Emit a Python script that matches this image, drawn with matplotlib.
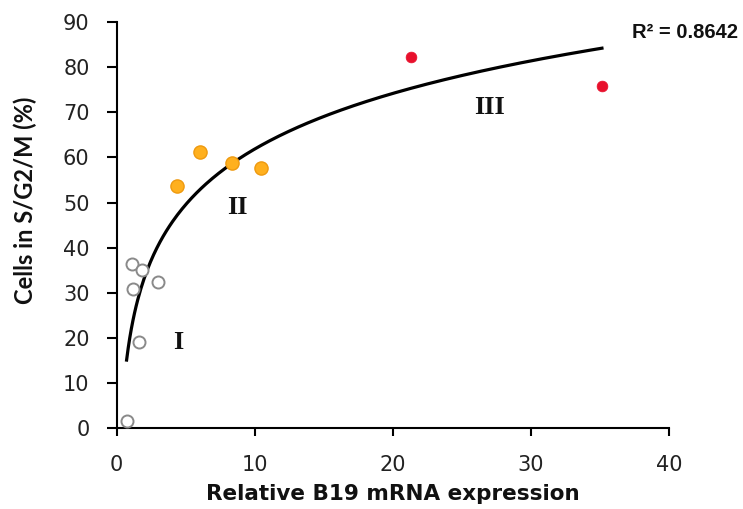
import numpy as np
import matplotlib
matplotlib.use("Agg")
import matplotlib.pyplot as plt

# Group I (open circles)
x_I = [1.13, 1.81, 1.20, 3.01, 1.64, 0.72]
y_I = [36.4, 35.1, 30.9, 32.5, 19.1, 1.6]
# Group II (orange)
x_II = [4.34, 6.03, 8.32, 10.45]
y_II = [53.7, 61.1, 58.8, 57.6]
# Group III (red)
x_III = [21.28, 35.13]
y_III = [82.2, 75.9]

x_ticks = [0, 10, 20, 30, 40]
y_ticks = [0, 10, 20, 30, 40, 50, 60, 70, 80, 90]
group_labels = ['I', 'II', 'III']
group_label_x = [4.44, 8.74, 27.0]
group_label_y = [18.9, 48.8, 71.0]
r2_text = "R² = 0.8642"

fig = plt.figure(figsize=(7.43, 5.09), dpi=100)
ax = fig.add_axes([0.157, 0.1585, 0.7437, 0.7983])

# logarithmic trendline fitted on all points
xa = np.array(x_I + x_II + x_III)
ya = np.array(y_I + y_II + y_III)
a, b = np.polyfit(np.log(xa), ya, 1)
xs = np.linspace(xa.min(), xa.max(), 300)
ax.plot(xs, a * np.log(xs) + b, color='black', lw=2.3, zorder=2, clip_on=False)

ax.scatter(x_I, y_I, s=75, facecolor='white', edgecolor='#8a8a8a', linewidth=1.4, zorder=3, clip_on=False)
ax.scatter(x_II, y_II, s=90, facecolor='#FFB01E', edgecolor='#EE9A10', linewidth=1.0, zorder=3)
ax.scatter(x_III, y_III, s=60, facecolor='#E8102C', edgecolor='#E8102C', linewidth=0.5, zorder=3)

ax.set_xlim(0, 40)
ax.set_ylim(0, 90)
ax.set_xticks(x_ticks)
ax.set_yticks(y_ticks)
for s in ['top', 'right']:
    ax.spines[s].set_visible(False)
for s in ['left', 'bottom']:
    ax.spines[s].set_linewidth(1.5)
ax.tick_params(axis='y', direction='out', length=7, width=1.5, pad=12.5,
               labelsize=15, colors='black', labelcolor='#222222')
ax.tick_params(axis='x', direction='out', length=6, width=1.5, pad=13.5,
               labelsize=15, colors='black', labelcolor='#222222')
for lab in ax.get_xticklabels() + ax.get_yticklabels():
    lab.set_family('DejaVu Sans')

ax.set_xlabel('Relative B19 mRNA expression', fontsize=15.5, fontweight='bold',
              family='DejaVu Sans', color='#111111')
ax.xaxis.set_label_coords(0.5, -0.138)
ax.xaxis.label.set_va('top')
ax.set_ylabel('Cells in S/G2/M (%)', fontsize=17, fontweight='bold', family='Lato',
              color='#111111')
ax.yaxis.set_label_coords(-0.166, 0.562)
ax.yaxis.label.set_va('center')

for t, gx, gy in zip(group_labels, group_label_x, group_label_y):
    ax.text(gx, gy, t, family='Liberation Serif', fontweight='bold', fontsize=19,
            ha='center', va='center', color='#111111')

fig.text(0.922, 0.936, r2_text, family='Liberation Sans', fontweight='bold', fontsize=14.5,
         ha='center', va='center', color='#111111')

fig.savefig('out.png', dpi=100)
